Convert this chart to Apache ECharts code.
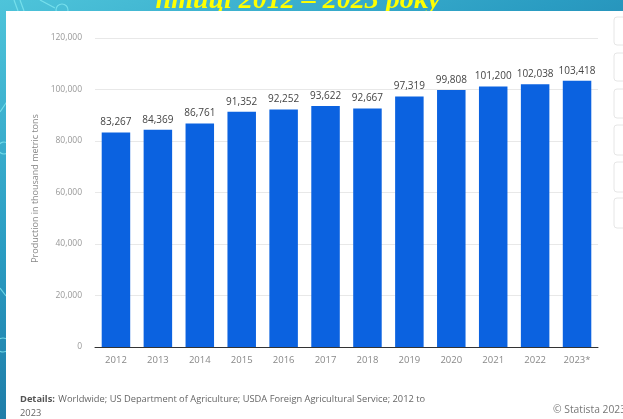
<!DOCTYPE html>
<html>
<head>
<meta charset="utf-8">
<script src="https://cdn.jsdelivr.net/npm/echarts@6/dist/echarts.min.js"></script>
<style>
  html, body { margin: 0; padding: 0; }
  #chart { width: 623px; height: 419px; }
</style>
</head>
<body>
<div id="chart"></div>
<script>
// Global poultry production, thousand metric tons
const years = ['2012', '2013', '2014', '2015', '2016', '2017', '2018', '2019', '2020', '2021', '2022', '2023*'];
const production = [83267, 84369, 86761, 91352, 92252, 93622, 92667, 97319, 99808, 101200, 102038, 103418];
const yTicks = { min: 0, max: 120000, interval: 20000 };

const chart = echarts.init(document.getElementById('chart'), null, { renderer: 'canvas' });

const line = (x1, y1, x2, y2) => ({
  type: 'line', z: -5, silent: true,
  shape: { x1, y1, x2, y2 },
  style: { stroke: '#7fe6f0', lineWidth: 1.2, opacity: 0.8 }
});
const ring = (cx, cy, r) => ({
  type: 'circle', z: -5, silent: true,
  shape: { cx, cy, r },
  style: { fill: 'none', stroke: '#7fe6f0', lineWidth: 1.2, opacity: 0.8 }
});
const sideBox = (y, h) => ({
  type: 'rect', z: -1, silent: true,
  shape: { x: 614, y, width: 16, height: h, r: 3 },
  style: { fill: '#ffffff', stroke: '#e6e6e6', lineWidth: 1 }
});

chart.setOption({
  animation: false,
  backgroundColor: {
    type: 'linear', x: 0, y: 0, x2: 0.3, y2: 1,
    colorStops: [
      { offset: 0, color: '#4ec4da' },
      { offset: 0.5, color: '#2a9cc2' },
      { offset: 1, color: '#1a6f9c' }
    ]
  },
  graphic: [
    // decorative line-art on the slide background
    line(14, 0, 18, 11),
    line(20, 0, 24, 11),
    ring(62, 10, 6),
    line(40, 0, 55, 8),
    line(0, 112, 8, 100),
    ring(4, 148, 6),
    line(0, 288, 6, 296),
    ring(3, 345, 7),
    // slide title, partly hidden by the panel
    {
      type: 'text', z: -4, silent: true,
      style: {
        x: 298, y: 15,
        text: 'птиці 2012 – 2023 року',
        fill: '#ffff00',
        font: 'italic bold 28px "Liberation Serif", "DejaVu Serif", serif',
        align: 'center', verticalAlign: 'bottom'
      }
    },
    // white panel holding the chart
    {
      type: 'rect', z: -3, silent: true,
      shape: { x: 6, y: 11, width: 640, height: 420 },
      style: { fill: '#ffffff' }
    },
    sideBox(17, 28), sideBox(53, 28), sideBox(89, 29),
    sideBox(125, 30), sideBox(162, 30), sideBox(198, 30),
    {
      type: 'text', silent: true,
      style: {
        x: 20, y: 399,
        rich: {
          b: { fontWeight: 'bold', fill: '#555', fontSize: 9.3, fontFamily: 'Open Sans' },
          n: { fill: '#666', fontSize: 9.3, fontFamily: 'Open Sans' }
        },
        text: '{b|Details:} {n|Worldwide; US Department of Agriculture; USDA Foreign Agricultural Service; 2012 to}',
        verticalAlign: 'middle'
      }
    },
    {
      type: 'text', silent: true,
      style: {
        x: 20, y: 413, text: '2023',
        fill: '#666', fontSize: 9.3, fontFamily: 'Open Sans', verticalAlign: 'middle'
      }
    },
    {
      type: 'text', silent: true,
      style: {
        x: 553, y: 410, text: '© Statista 2023',
        fill: '#777', fontSize: 10.3, fontFamily: 'Open Sans', verticalAlign: 'middle'
      }
    }
  ],
  grid: { left: 95, right: 25, top: 38, bottom: 72, containLabel: false },
  xAxis: {
    type: 'category',
    data: years,
    axisLine: { lineStyle: { color: '#333', width: 1 } },
    axisTick: { show: false },
    axisLabel: { color: '#888', fontSize: 9.5, fontFamily: 'Open Sans', margin: 8 }
  },
  yAxis: {
    type: 'value',
    min: yTicks.min, max: yTicks.max, interval: yTicks.interval,
    name: 'Production in thousand metric tons',
    nameLocation: 'middle',
    nameGap: 55,
    nameTextStyle: { color: '#888', fontSize: 9, fontFamily: 'Open Sans', padding: [0, 0, 0, 8] },
    axisLine: { show: false },
    axisTick: { show: false },
    splitLine: { lineStyle: { color: '#e8e8e8', width: 1 } },
    axisLabel: {
      color: '#999', fontSize: 8.5, fontFamily: 'Open Sans', margin: 13,
      formatter: v => v.toLocaleString('en-US')
    }
  },
  series: [{
    type: 'bar',
    data: production,
    barWidth: '68%',
    itemStyle: { color: '#0b62e0' },
    label: {
      show: true, position: 'top', distance: 5,
      color: '#444', fontSize: 10, fontFamily: 'Open Sans',
      formatter: p => p.value.toLocaleString('en-US')
    }
  }]
});
</script>
</body>
</html>
